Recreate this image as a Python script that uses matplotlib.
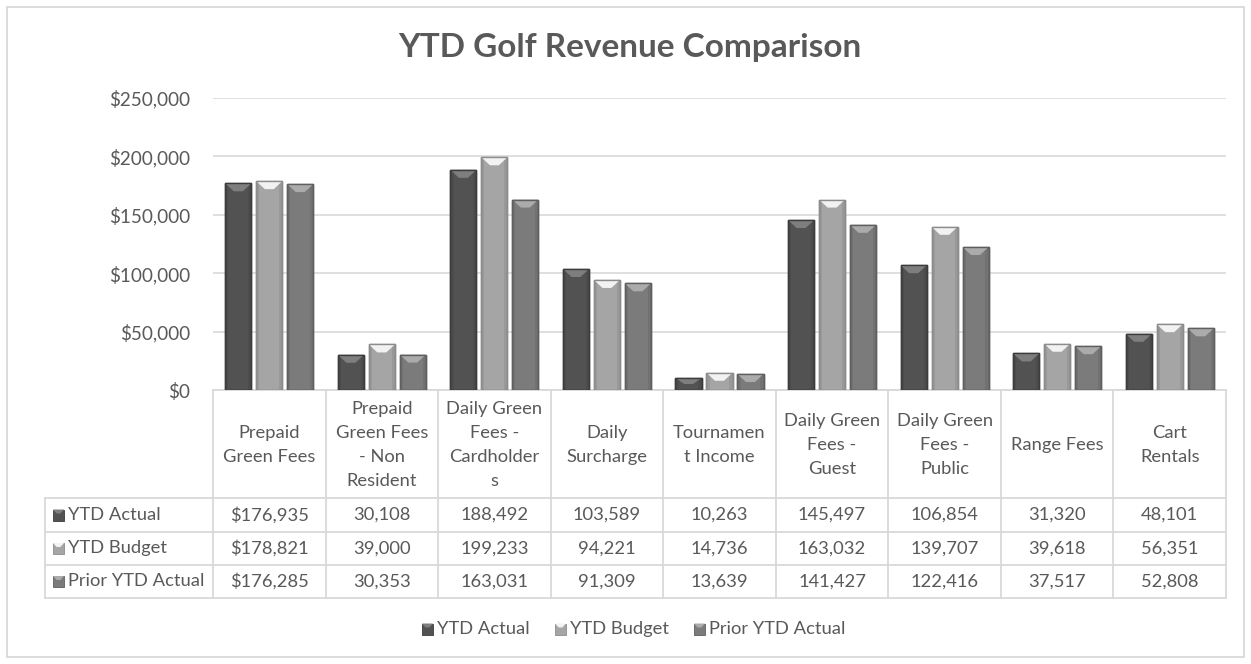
import matplotlib
matplotlib.use("Agg")
import matplotlib.pyplot as plt
from matplotlib.patches import Rectangle, Polygon
from matplotlib.ticker import FuncFormatter

plt.rcParams['font.family'] = ['Lato', 'DejaVu Sans']

# ---- data -------------------------------------------------------------
categories = [
    "Prepaid Green Fees", "Prepaid Green Fees - Non Resident",
    "Daily Green Fees - Cardholders", "Daily Surcharge", "Tournament Income",
    "Daily Green Fees - Guest", "Daily Green Fees - Public", "Range Fees",
    "Cart Rentals",
]
category_labels = [
    "Prepaid\nGreen Fees", "Prepaid\nGreen Fees\n- Non\nResident",
    "Daily Green\nFees -\nCardholder\ns", "Daily\nSurcharge",
    "Tournamen\nt Income", "Daily Green\nFees -\nGuest",
    "Daily Green\nFees -\nPublic", "Range Fees", "Cart\nRentals",
]
series_names = ["YTD Actual", "YTD Budget", "Prior YTD Actual"]
ytd_actual = [176935, 30108, 188492, 103589, 10263, 145497, 106854, 31320, 48101]
ytd_budget = [178821, 39000, 199233, 94221, 14736, 163032, 139707, 39618, 56351]
prior_ytd_actual = [176285, 30353, 163031, 91309, 13639, 141427, 122416, 37517, 52808]
y_ticks = [0, 50000, 100000, 150000, 200000, 250000]

series_values = [ytd_actual, ytd_budget, prior_ytd_actual]
face_colors = ["#525252", "#a5a5a5", "#7b7b7b"]
edge_colors = ["#3c3c3c", "#8c8c8c", "#5f5f5f"]
bevel_colors = ["#7e7e7e", "#f2f2f2", "#ababab"]

TEXT = "#595959"
LINE = "#d9d9d9"

W, H = 1251, 664
fig = plt.figure(figsize=(W / 100, H / 100), dpi=100)

# pixel-space overlay for frame, table and legend
ov = fig.add_axes([0, 0, 1, 1], zorder=0)
ov.set_xlim(0, W)
ov.set_ylim(H, 0)
ov.axis("off")

# chart border
ov.add_patch(Rectangle((7, 7), 1237, 650, fill=False, ec=LINE, lw=1.3))

# ---- plot area -------------------------------------------------------
px_left, px_right, px_top, px_bottom = 213, 1226, 98, 390
ax = fig.add_axes([px_left / W, 1 - px_bottom / H,
                   (px_right - px_left) / W, (px_bottom - px_top) / H], zorder=2)
ax.patch.set_alpha(0)
n = len(categories)
ax.set_xlim(-0.5, n - 0.5)
ax.set_ylim(0, 250000)
ax.set_yticks(y_ticks)
ax.yaxis.set_major_formatter(FuncFormatter(lambda v, p: f"${v:,.0f}"))
ax.tick_params(axis="y", length=0, pad=16.5, labelsize=13.6, labelcolor=TEXT)
ax.tick_params(axis="x", length=0, labelbottom=False)
for s in ax.spines.values():
    s.set_visible(False)
ax.grid(axis="y", color=LINE, lw=1.2)
ax.set_axisbelow(True)

bar_w = 0.232
step = 0.275
ppy = 250000 / (px_bottom - px_top)  # data units per pixel (y)
bevel_h = 8 * ppy
for k, vals in enumerate(series_values):
    xs = [i + (k - 1) * step for i in range(n)]
    bars = ax.bar(xs, vals, width=bar_w, color=face_colors[k],
                  edgecolor=edge_colors[k], lw=1.0, zorder=3)
    for b in bars:
        x0, x1 = b.get_x(), b.get_x() + b.get_width()
        bw = x1 - x0
        top = b.get_height()
        bh = min(bevel_h, top * 0.5)
        side = bw * 0.12
        # side shading strips
        ax.add_patch(Rectangle((x0, 0), side, top, fc="black", alpha=0.07,
                               ec="none", zorder=4))
        ax.add_patch(Rectangle((x1 - side, 0), side, top, fc="black",
                               alpha=0.07, ec="none", zorder=4))
        # top bevel face
        ax.add_patch(Polygon([(x0, top), (x1, top), (x1 - bw * 0.33, top - bh),
                              (x0 + bw * 0.33, top - bh)], closed=True,
                             fc=bevel_colors[k], ec="none", zorder=4))
        ax.add_patch(Rectangle((x0, 0), bw, top, fill=False,
                               ec=edge_colors[k], lw=1.0, zorder=5))

# ---- data table -------------------------------------------------------
col_w = (px_right - px_left) / n
row_lines = [498, 532, 565, 598]
tbl_left = 45
ov.plot([px_left, px_right], [px_bottom, px_bottom], color=LINE, lw=1.3)
for j in range(n + 1):
    x = px_left + j * col_w
    ov.plot([x, x], [px_bottom, row_lines[-1]], color=LINE, lw=1.3)
ov.plot([tbl_left, tbl_left], [row_lines[0], row_lines[-1]], color=LINE, lw=1.3)
for y in row_lines:
    ov.plot([tbl_left, px_right], [y, y], color=LINE, lw=1.3)

fs = 13.2


def marker(x, cy, k):
    s = 11
    ov.add_patch(Rectangle((x, cy - s / 2), s, s, fc=face_colors[k],
                           ec=edge_colors[k], lw=0.6))
    ov.add_patch(Polygon([(x, cy - s / 2), (x + s, cy - s / 2),
                          (x + s * 0.67, cy - s / 2 + 4),
                          (x + s * 0.33, cy - s / 2 + 4)],
                         fc=bevel_colors[k], ec="none"))


for j, lab in enumerate(category_labels):
    cx = px_left + (j + 0.5) * col_w
    ov.text(cx, (px_bottom + row_lines[0]) / 2 + 1, lab, ha="center",
            va="center", fontsize=fs, color=TEXT, linespacing=1.62)

for r, (name, vals) in enumerate(zip(series_names, series_values)):
    cy = (row_lines[r] + row_lines[r + 1]) / 2
    marker(53, cy, r)
    ov.text(68, cy, name, ha="left", va="center", fontsize=fs, color=TEXT)
    for j, v in enumerate(vals):
        txt = f"${v:,}" if j == 0 else f"{v:,}"
        ov.text(px_left + (j + 0.5) * col_w, cy, txt, ha="center",
                va="center", fontsize=fs, color=TEXT)

# ---- legend -----------------------------------------------------------
leg_y = 629
leg_x = [422, 555, 694]
for k, name in enumerate(series_names):
    marker(leg_x[k], leg_y, k)
    ov.text(leg_x[k] + 15, leg_y, name, ha="left", va="center", fontsize=fs,
            color=TEXT)

# ---- title --------------------------------------------------------------
ov.text(W / 2 + 4, 48, "YTD Golf Revenue Comparison", ha="center", va="center",
        fontsize=24, fontweight="bold", color=TEXT)

fig.savefig("out.png", dpi=100)
